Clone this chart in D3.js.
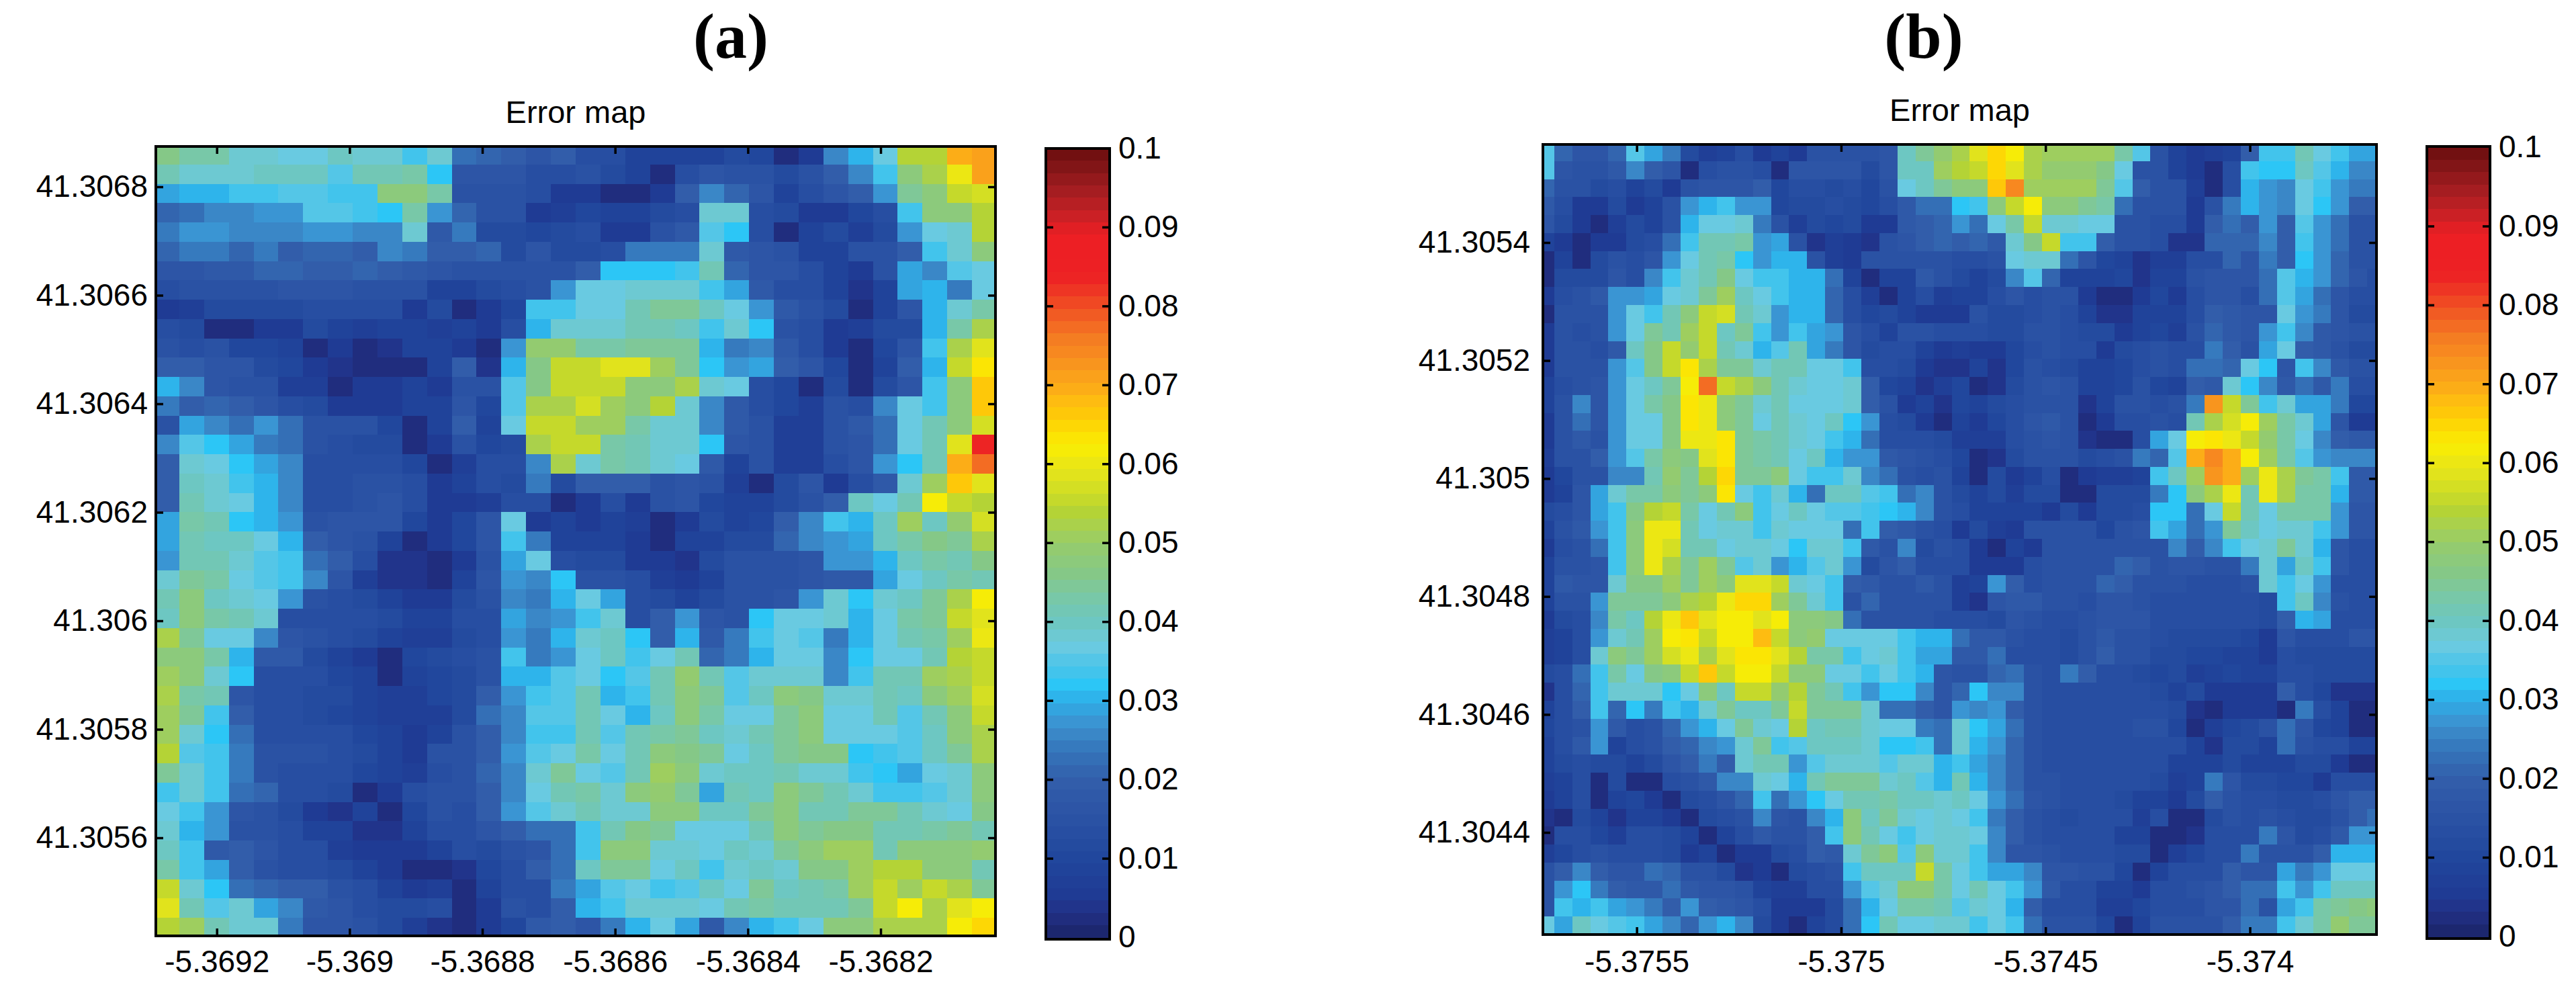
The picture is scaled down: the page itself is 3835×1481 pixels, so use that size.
<!DOCTYPE html>
<html>
<head>
<meta charset="utf-8">
<title>Error map</title>
<script src="https://cdn.jsdelivr.net/npm/d3@7"></script>
<style>
  html, body { margin: 0; padding: 0; background: #fff; }
  svg { display: block; }
  text { fill: #000; }
  .domain { display: none; }
  .tick line { stroke: #000; stroke-width: 3.5px; }
  .tick text { font-family: "Liberation Sans", Arial, sans-serif; font-size: 46px; fill: #000; }
</style>
</head>
<body>
<svg id="chart" width="3835" height="1481"></svg>
<script>
// error values are in thousandths, top row first
const errorA = [
[46,43,43,39,39,36,36,40,39,39,34,38,22,21,19,17,19,13,14,9,9,9,9,12,10,2,5,25,31,37,54,54,69,71],
[41,38,38,38,40,40,40,35,41,42,43,32,16,16,16,13,14,15,12,8,3,14,16,15,15,11,15,20,26,33,47,53,60,71],
[29,31,31,33,33,35,35,33,33,47,47,43,15,15,15,14,6,6,3,3,5,19,26,21,17,9,14,17,20,27,44,47,56,57],
[21,23,25,25,27,27,35,35,33,32,43,27,21,15,15,5,7,10,9,9,11,14,39,39,14,12,6,6,10,14,33,47,47,54],
[24,27,27,25,25,25,27,27,25,25,39,18,24,11,11,10,12,13,6,6,15,18,35,32,14,2,8,11,7,12,27,37,38,54],
[21,24,24,21,24,19,21,21,20,25,24,20,19,21,11,16,11,11,14,24,24,24,38,18,16,15,8,8,15,15,20,33,38,48],
[16,16,18,18,21,21,20,20,21,20,18,16,15,15,15,15,15,20,32,32,32,33,41,21,16,16,14,8,5,15,29,25,35,37],
[13,15,15,15,15,17,16,16,15,15,15,8,8,11,14,15,27,36,36,38,38,38,34,29,18,14,14,8,4,8,29,31,24,37],
[6,7,11,11,11,11,14,14,13,13,6,11,2,6,10,33,33,36,36,42,44,44,40,36,28,18,15,11,3,9,17,31,39,43],
[13,11,2,2,5,5,11,9,7,9,9,7,9,6,14,30,38,38,38,41,41,40,33,38,32,15,13,5,7,12,12,31,43,52],
[15,14,15,10,10,8,3,6,2,4,8,8,5,2,27,49,49,43,43,45,45,45,31,24,26,18,14,5,3,10,16,34,53,58],
[19,19,17,16,11,10,6,4,2,2,2,8,19,4,31,46,55,55,58,58,50,45,32,28,29,19,17,10,2,9,19,30,55,64],
[30,25,17,15,15,7,7,2,5,5,8,6,15,15,35,46,56,56,56,47,47,53,38,36,14,10,3,11,2,12,17,33,47,66],
[24,19,21,20,17,13,12,5,6,6,8,9,17,10,35,52,52,57,50,47,54,38,25,18,14,10,7,15,14,25,37,33,47,67],
[15,29,25,23,27,23,15,15,15,10,3,8,20,9,37,55,55,51,51,43,39,38,25,18,15,7,7,15,18,23,37,42,47,57],
[25,35,32,29,24,22,15,13,12,12,3,5,15,10,12,53,55,55,43,41,39,38,32,17,15,7,7,15,16,22,37,42,59,83],
[19,38,36,32,29,25,14,13,13,14,10,2,7,13,13,25,53,39,43,41,38,36,18,8,15,7,7,13,16,27,32,42,70,78],
[20,40,38,34,31,25,14,14,15,15,14,6,8,13,11,24,11,20,20,19,15,16,15,7,3,11,16,6,14,18,39,50,66,59],
[19,41,38,36,31,25,14,14,15,17,14,5,6,7,14,14,2,5,13,5,15,16,10,8,9,12,15,19,40,36,42,62,56,54],
[29,43,41,32,31,27,15,16,16,17,10,5,10,17,36,5,8,5,9,7,2,5,12,8,10,19,26,34,31,40,50,40,49,57],
[29,41,40,40,36,31,19,17,15,9,3,5,10,16,33,24,9,9,9,6,2,9,9,11,11,21,25,27,29,40,43,46,44,53],
[27,42,42,39,35,33,22,20,13,4,4,2,5,15,29,36,14,11,11,6,6,4,12,15,15,15,17,27,27,31,40,43,41,46],
[38,44,43,37,35,33,25,16,7,4,4,2,9,16,27,25,32,15,15,14,7,5,9,15,15,15,17,18,18,29,36,40,43,42],
[42,47,40,39,37,27,15,14,12,9,6,6,11,15,25,24,31,36,29,14,12,8,11,15,15,16,28,38,32,38,40,45,53,62],
[40,47,43,41,38,14,14,13,13,11,9,9,13,14,29,25,27,34,38,14,19,27,16,15,32,36,36,38,31,36,43,44,55,58],
[53,44,37,36,25,16,15,14,11,8,7,7,11,14,27,24,31,38,40,32,19,31,18,24,34,37,35,24,31,37,42,43,50,60],
[48,47,43,31,18,18,11,8,6,3,10,11,13,15,33,24,28,36,40,33,37,41,21,24,31,37,37,25,32,37,37,41,54,56],
[51,47,38,32,13,13,13,10,8,3,8,10,12,15,31,31,35,36,32,35,41,49,42,35,39,38,38,26,33,42,41,51,52,56],
[53,43,41,17,13,13,12,11,8,7,7,10,12,20,28,33,35,42,31,33,41,47,44,35,40,47,46,38,38,42,40,47,50,57],
[50,44,34,19,13,13,12,10,9,7,7,7,12,23,26,35,35,41,36,31,40,47,43,37,37,44,48,37,36,41,35,42,47,55],
[51,38,32,23,14,14,14,13,10,8,5,9,15,19,25,33,33,42,35,41,43,44,40,39,41,45,47,36,36,36,35,40,47,53],
[54,35,33,24,15,15,15,14,12,8,5,15,15,19,28,35,36,43,37,42,47,46,44,37,40,45,46,46,32,33,35,40,44,52],
[44,38,33,24,15,14,14,13,10,9,7,13,15,21,25,38,44,37,35,41,50,47,38,40,40,42,39,38,33,32,29,36,39,48],
[34,39,33,23,21,13,13,11,3,6,13,15,15,19,25,37,41,43,39,47,49,44,29,41,40,48,45,41,38,34,33,35,38,47],
[36,33,27,16,15,11,6,4,8,3,10,15,14,19,28,35,38,42,39,39,47,47,40,40,44,47,42,41,45,44,41,38,37,46],
[38,31,27,15,15,14,9,8,4,4,8,13,14,17,20,23,23,33,42,46,44,36,36,36,41,47,45,46,46,42,42,43,44,41],
[40,33,18,19,16,14,14,7,6,6,6,9,14,11,15,16,23,33,47,47,38,38,36,40,39,44,47,51,51,42,47,47,47,49],
[43,33,29,19,15,14,14,12,8,5,3,3,4,10,14,19,22,40,44,45,37,40,33,39,40,38,46,46,50,54,54,48,47,41],
[56,38,32,22,21,20,20,15,14,9,5,7,2,9,14,14,24,29,35,37,33,35,40,37,45,40,42,43,50,55,50,56,52,44],
[58,41,35,38,29,26,18,16,13,11,12,14,3,6,15,14,19,31,33,39,38,38,36,41,43,42,42,41,44,55,61,52,58,61],
[54,50,41,39,39,24,17,16,15,12,7,4,2,6,10,18,20,17,24,31,36,29,18,25,31,33,37,48,48,53,53,52,62,65]
];

const errorB = [
[35,21,17,16,21,35,29,24,12,7,8,13,6,9,5,15,15,15,15,16,40,45,49,53,58,65,61,53,51,51,51,51,43,35,15,9,5,7,9,19,33,33,42,37,34,29,29],
[35,16,15,15,18,26,20,16,2,14,15,15,13,3,16,16,16,16,12,17,40,40,50,54,55,65,59,52,49,49,49,46,37,15,15,9,6,3,14,34,32,32,40,35,31,25,25],
[21,15,15,11,14,9,11,5,15,17,17,17,20,10,14,14,12,14,10,15,37,40,44,47,48,66,75,51,50,50,50,45,35,20,15,15,7,2,14,31,28,26,36,33,27,24,24],
[18,13,6,5,11,5,8,15,27,31,33,27,27,10,11,11,13,11,10,13,18,23,23,32,33,47,56,62,48,47,44,43,22,15,15,15,5,15,24,31,28,26,37,32,27,19,19],
[16,11,6,3,7,11,8,15,31,36,36,38,24,15,7,11,10,11,5,5,18,20,21,27,23,36,43,55,39,39,37,36,15,15,14,14,5,20,22,20,28,20,35,28,22,15,15],
[9,6,3,5,6,12,14,22,33,41,41,43,27,29,15,4,7,5,4,15,16,19,21,20,21,18,38,46,56,34,34,20,15,15,14,4,4,21,21,21,25,19,33,28,22,15,15],
[3,9,2,12,15,14,16,28,36,41,43,32,28,31,31,15,7,5,15,15,15,15,15,14,13,15,36,38,38,23,17,10,8,4,7,7,13,14,21,17,24,20,32,27,21,15,15],
[2,11,12,12,17,14,25,33,38,42,46,36,33,33,31,31,22,8,3,9,8,18,15,12,9,12,26,35,21,9,9,9,10,4,9,9,15,17,16,17,22,35,30,27,21,17,13],
[6,14,15,18,27,27,29,36,39,45,50,40,37,33,31,31,21,14,7,2,8,13,7,9,8,13,16,14,15,15,5,2,2,5,10,6,14,17,17,14,22,35,29,22,17,14,14],
[2,15,15,15,27,36,33,41,48,55,57,41,39,28,31,31,21,14,10,11,9,5,5,6,15,11,11,14,15,14,9,4,4,8,9,8,14,19,18,16,16,36,27,24,16,12,12],
[5,15,14,15,27,37,44,42,50,55,40,44,33,27,33,29,27,16,13,9,15,15,14,14,13,11,11,15,15,14,11,11,6,9,10,7,15,21,18,17,28,34,25,18,17,15,15],
[5,15,15,14,18,40,46,55,49,55,42,38,31,35,41,29,24,17,11,14,13,9,5,7,5,5,10,14,15,14,13,6,11,14,15,13,14,24,20,15,29,37,20,18,15,11,11],
[5,15,15,15,28,35,46,55,63,53,45,44,39,42,41,37,36,33,14,14,11,6,4,4,9,4,10,15,14,12,8,8,10,14,15,13,22,23,21,37,32,17,33,25,18,15,15],
[8,14,15,17,27,36,40,45,62,78,56,52,48,42,38,37,37,38,19,10,8,4,7,10,2,4,11,15,17,15,9,8,10,15,10,9,20,18,38,32,26,18,22,18,24,14,14],
[8,15,25,17,27,37,43,46,63,60,48,44,39,41,37,37,36,38,19,15,6,8,4,10,9,11,14,15,15,15,4,9,15,15,14,15,24,72,55,45,33,38,29,29,24,10,10],
[5,15,23,16,27,37,37,46,63,60,48,44,37,41,38,36,40,32,27,14,11,6,3,9,5,10,14,16,18,15,3,5,14,14,15,14,42,53,57,62,50,43,38,29,17,6,6],
[6,15,18,15,27,37,37,46,60,60,64,44,43,41,38,37,33,31,22,14,14,13,11,7,7,7,14,15,16,15,4,2,2,14,29,36,62,63,60,55,49,43,36,26,20,18,18],
[7,15,15,20,27,35,43,48,46,59,64,44,43,41,37,40,31,27,27,18,17,15,13,10,3,4,11,15,15,15,11,13,15,24,21,35,70,74,70,61,50,43,35,27,25,25,25],
[6,10,15,15,26,26,42,49,44,54,65,44,44,47,37,33,33,38,25,23,15,14,15,8,2,11,6,8,13,3,5,7,7,8,33,40,50,72,70,50,60,53,44,43,33,18,18],
[5,9,16,29,38,43,43,48,44,47,64,36,34,38,31,23,40,40,35,33,23,25,15,12,9,11,7,11,11,2,2,11,12,12,24,32,48,52,60,42,60,53,43,43,31,18,18],
[11,14,16,29,33,46,54,56,43,37,42,47,33,37,40,36,35,35,33,32,31,25,15,13,9,9,9,8,6,11,6,11,12,14,32,32,22,37,55,42,36,43,43,43,28,17,17],
[8,15,18,28,33,47,60,60,41,36,39,39,33,38,36,36,37,23,33,19,18,15,14,6,11,7,5,15,15,15,15,10,15,16,33,29,23,28,45,40,37,39,39,33,27,16,16],
[6,14,15,22,33,48,60,57,41,41,37,38,38,37,32,38,38,34,18,15,25,12,15,14,5,2,9,5,15,15,15,15,15,15,15,25,20,25,33,37,39,44,38,31,17,14,14],
[9,15,15,17,33,48,60,52,44,51,44,35,38,27,31,35,38,28,12,17,19,14,14,14,5,5,5,13,15,15,15,15,21,19,15,17,17,15,15,24,38,29,40,33,17,14,14],
[9,18,16,17,38,46,46,50,44,51,47,58,58,56,38,36,33,20,18,15,15,18,15,7,8,27,19,14,15,15,15,21,19,15,15,15,14,14,14,15,38,33,36,28,14,14,14],
[8,15,15,28,44,44,44,47,52,54,60,65,65,51,44,38,33,15,21,15,15,15,15,7,4,16,18,18,15,15,13,17,17,15,14,14,14,14,14,14,12,33,40,25,15,14,14],
[5,12,14,25,43,40,54,60,66,58,62,62,58,62,47,47,46,22,15,15,15,15,14,14,14,11,17,15,14,14,15,16,16,16,14,14,14,14,14,14,12,19,31,29,14,14,14],
[7,9,14,27,38,41,50,62,64,55,62,62,68,55,48,49,36,36,36,36,33,31,31,22,18,18,15,13,13,12,15,18,15,15,13,12,12,12,12,10,5,17,13,13,13,16,16],
[7,9,14,38,47,44,50,57,60,52,58,64,64,58,54,43,43,33,36,38,34,29,29,18,18,23,14,14,13,12,15,19,15,15,12,11,10,10,8,8,5,13,12,12,11,11,11],
[12,14,23,33,43,36,46,47,55,66,55,62,62,55,48,48,36,36,33,36,33,31,16,15,15,21,22,15,13,24,20,14,13,11,10,12,7,8,10,8,8,14,13,11,12,11,11],
[4,14,21,33,38,38,39,32,36,47,40,55,56,49,54,45,41,33,28,32,32,25,17,21,32,25,25,15,14,13,14,14,13,13,11,9,11,6,6,6,5,19,13,10,4,4,4],
[8,14,20,33,21,32,24,33,30,38,45,40,40,45,55,44,44,44,38,22,22,20,17,28,26,28,20,15,14,14,13,13,13,14,14,11,4,2,5,5,5,3,24,14,8,3,3],
[10,14,15,28,18,14,15,21,28,30,36,44,38,37,54,40,42,42,38,36,36,24,23,38,32,29,22,15,14,14,13,14,13,15,15,10,2,7,10,12,15,23,17,10,8,2,2],
[8,13,18,27,8,14,15,20,21,25,28,38,44,34,35,40,40,40,38,32,32,34,22,38,31,28,21,15,14,13,13,13,13,13,13,13,8,4,11,11,9,23,15,14,14,9,9],
[9,12,14,12,11,8,11,16,20,24,19,38,41,41,27,35,38,38,38,35,38,39,30,34,29,25,21,15,14,14,13,13,14,14,13,8,8,8,12,9,9,8,11,12,6,3,3],
[7,9,13,2,12,3,3,14,15,18,25,26,38,36,31,42,44,44,44,38,40,35,31,42,31,26,21,15,15,13,14,13,13,13,11,7,8,24,17,11,11,10,10,6,14,13,13],
[5,9,13,2,9,10,6,3,11,14,17,21,34,23,27,32,37,41,42,43,40,40,38,40,36,28,22,16,15,13,13,14,12,9,8,6,12,20,15,14,13,12,12,13,17,20,20],
[4,3,11,9,4,9,8,6,3,12,13,15,25,17,15,25,30,47,40,44,38,37,38,36,33,24,20,15,14,11,13,13,13,7,13,3,3,11,15,14,15,14,12,12,15,19,23],
[3,14,13,10,7,13,14,12,9,3,8,14,18,15,15,20,33,47,42,37,34,36,38,38,36,25,20,15,14,13,13,13,9,8,3,2,4,13,14,14,24,16,12,14,18,27,28],
[7,10,14,15,14,14,14,11,5,8,3,6,6,11,14,20,18,38,45,48,35,47,38,38,33,25,17,16,15,14,14,14,11,12,3,7,10,14,14,24,15,15,15,19,31,31,31],
[15,20,25,20,16,16,23,21,15,15,12,4,6,3,12,13,15,33,40,40,40,55,43,36,33,29,29,25,17,16,15,15,10,3,8,14,14,14,19,17,17,29,24,27,36,36,36],
[15,28,32,24,19,18,18,23,18,17,16,15,8,7,7,13,14,28,35,38,47,47,43,37,42,36,33,27,18,14,13,8,8,5,14,14,15,16,19,23,23,33,28,33,40,40,40],
[15,33,31,33,29,27,24,20,27,20,18,17,13,6,5,6,12,23,31,36,43,43,42,35,38,36,31,20,14,13,13,7,7,10,13,13,14,16,16,23,15,29,33,43,44,46,47],
[37,29,40,36,35,33,29,25,21,28,31,25,11,6,2,9,11,23,32,41,36,37,38,38,33,36,33,23,15,15,15,10,3,9,15,15,15,15,20,24,24,33,38,43,49,44,44]
];

const lonTicksA = [-5.3692, -5.369, -5.3688, -5.3686, -5.3684, -5.3682];
const latTicksA = [41.3068, 41.3066, 41.3064, 41.3062, 41.306, 41.3058, 41.3056];
const lonTicksB = [-5.3755, -5.375, -5.3745, -5.374];
const latTicksB = [41.3054, 41.3052, 41.305, 41.3048, 41.3046, 41.3044];
const colorbarTicks = [0, 0.01, 0.02, 0.03, 0.04, 0.05, 0.06, 0.07, 0.08, 0.09, 0.1];

// the jet map as it came out of print, sampled off the colorbar
const rampValues = [0, .003, .005, .01, .015, .02, .023, .025, .027, .029, .031, .032, .034, .036, .037, .04, .043, .046, .05,
    .052, .054, .056, .058, .06, .062, .064, .066, .068, .07, .072, .074, .076, .078, .08, .082, .084, .089, .092, .095, .098, .1];
const rampColors = ['#1a2468', '#222f84', '#1f3a93', '#21479d', '#2a52a4', '#335eab', '#3471b7', '#3880c2', '#3c92d0', '#33a5e0',
    '#2cbaef', '#2cc6f6', '#48c4ea', '#5dc8e5', '#6dcbdf', '#6dc7c0', '#78c8a8', '#85c888', '#97cc6a',
    '#a8d04f', '#b5d335', '#cbdb28', '#dde21f', '#ebe614', '#f8ed05', '#fde004', '#fecb07', '#febc11', '#fba919', '#f99a1d',
    '#f78a20', '#f47b22', '#f26523', '#f04e23', '#ee3524', '#ed2024', '#ed1f24', '#c22025', '#a01c20', '#7e1416', '#6b0e0e'];
const colorLevels = 64;

const ramp = d3.scaleLinear().domain(rampValues).range(rampColors);
const bandColors = d3.range(colorLevels).map(i => ramp((i + 0.5) / colorLevels * 0.1));
const colorScale = d3.scaleQuantize().domain([0, 0.1]).range(bandColors);

class ErrorMap {
    constructor(_config, _data) {
        this.config = _config;
        this.data = _data;
        this.initVis();
    }

    initVis() {
        let vis = this;
        const c = vis.config;

        vis.svg = d3.select(c.parentElement);
        vis.chart = vis.svg.append('g');

        vis.xScale = d3.scaleLinear().domain(c.lonDomain).range([c.left, c.right]);
        vis.yScale = d3.scaleLinear().domain(c.latDomain).range([c.top, c.bottom]);

        // cells are not the same size as the axes box, the outer ones get cut by the frame
        vis.colScale = d3.scaleLinear().domain([0, vis.data[0].length]).range(c.cellX);
        vis.rowScale = d3.scaleLinear().domain([0, vis.data.length]).range(c.cellY);

        vis.svg.append('clipPath').attr('id', c.id + '-clip')
            .append('rect')
            .attr('x', c.left).attr('y', c.top)
            .attr('width', c.right - c.left).attr('height', c.bottom - c.top);

        vis.renderCells();
        vis.renderAxes();
        vis.renderTitles();
        vis.renderColorbar();
    }

    renderCells() {
        let vis = this;
        const cells = vis.data.flatMap((row, r) => row.map((v, col) => ({row: r, col: col, value: v / 1000})));

        vis.chart.append('g')
            .attr('clip-path', `url(#${vis.config.id}-clip)`)
            .attr('shape-rendering', 'crispEdges')
            .selectAll('rect')
            .data(cells)
            .join('rect')
                .attr('x', d => vis.colScale(d.col))
                .attr('y', d => vis.rowScale(d.row))
                .attr('width', d => vis.colScale(d.col + 1) - vis.colScale(d.col) + 0.5)
                .attr('height', d => vis.rowScale(d.row + 1) - vis.rowScale(d.row) + 0.5)
                .style('fill', d => colorScale(d.value));
    }

    renderAxes() {
        let vis = this;
        const c = vis.config;
        const label = d => String(d);

        // matlab box: ticks point inwards on all four sides, labels only bottom and left
        vis.chart.append('g')
            .attr('transform', `translate(0, ${c.bottom})`)
            .call(d3.axisBottom(vis.xScale).tickValues(c.lonTicks).tickSize(-11).tickPadding(c.xLabelPad).tickFormat(label));
        vis.chart.append('g')
            .attr('transform', `translate(0, ${c.top})`)
            .call(d3.axisTop(vis.xScale).tickValues(c.lonTicks).tickSize(-11).tickFormat(''));
        vis.chart.append('g')
            .attr('transform', `translate(${c.left}, 0)`)
            .call(d3.axisLeft(vis.yScale).tickValues(c.latTicks).tickSize(-11).tickPadding(c.yLabelPad).tickFormat(label));
        vis.chart.append('g')
            .attr('transform', `translate(${c.right}, 0)`)
            .call(d3.axisRight(vis.yScale).tickValues(c.latTicks).tickSize(-11).tickFormat(''));

        vis.chart.append('rect')
            .attr('x', c.left).attr('y', c.top)
            .attr('width', c.right - c.left).attr('height', c.bottom - c.top)
            .attr('fill', 'none').attr('stroke', '#000').attr('stroke-width', 4);
    }

    renderTitles() {
        let vis = this;
        const c = vis.config;

        vis.chart.append('text')
            .attr('x', (c.left + c.right) / 2).attr('y', c.titleY)
            .attr('text-anchor', 'middle')
            .style('font-family', '"Liberation Sans", Arial, sans-serif')
            .style('font-size', '47px')
            .text('Error map');

        vis.chart.append('text')
            .attr('x', c.panelX).attr('y', 86)
            .attr('text-anchor', 'middle')
            .style('font-family', '"Liberation Serif", "Times New Roman", serif')
            .style('font-weight', 'bold')
            .style('font-size', '96px')
            .text(c.panelLabel);
    }

    renderColorbar() {
        let vis = this;
        const b = vis.config.bar;

        const barScale = d3.scaleLinear().domain([0, 0.1]).range([b.zeroY, b.topY]);
        const g = vis.chart.append('g');

        // lowest band runs on under the frame
        g.append('rect')
            .attr('x', b.left).attr('y', b.zeroY - 10)
            .attr('width', b.right - b.left).attr('height', b.frameBottom - b.zeroY + 10)
            .style('fill', bandColors[0]);

        g.append('g')
            .attr('shape-rendering', 'crispEdges')
            .selectAll('rect')
            .data(bandColors)
            .join('rect')
                .attr('x', b.left)
                .attr('width', b.right - b.left)
                .attr('y', (d, i) => barScale((i + 1) / colorLevels * 0.1))
                .attr('height', (d, i) => barScale(i / colorLevels * 0.1) - barScale((i + 1) / colorLevels * 0.1) + 0.5)
                .style('fill', d => d);

        const rightAxis = g.append('g')
            .attr('transform', `translate(${b.right}, 0)`)
            .call(d3.axisRight(barScale).tickValues(colorbarTicks).tickSize(-11).tickPadding(13).tickFormat(d => String(d)));
        const leftAxis = g.append('g')
            .attr('transform', `translate(${b.left}, 0)`)
            .call(d3.axisLeft(barScale).tickValues(colorbarTicks).tickSize(-11).tickFormat(''));

        // no tick marks at the two ends, only the labels
        [rightAxis, leftAxis].forEach(axis => {
            axis.selectAll('.tick').filter(d => d === 0 || d === 0.1).select('line').remove();
        });

        g.append('rect')
            .attr('x', b.left).attr('y', b.frameTop)
            .attr('width', b.right - b.left).attr('height', b.frameBottom - b.frameTop)
            .attr('fill', 'none').attr('stroke', '#000').attr('stroke-width', 4);
    }
}

new ErrorMap({
    parentElement: '#chart', id: 'a', panelLabel: '(a)', panelX: 1088, titleY: 183,
    left: 232, right: 1482, top: 218, bottom: 1393,
    lonDomain: [-5.3692918, -5.368027], latDomain: [41.3068743, 41.3054192],
    cellX: [230, 1484], cellY: [216, 1395],
    lonTicks: lonTicksA, latTicks: latTicksA, xLabelPad: 21, yLabelPad: 12,
    bar: {left: 1557, right: 1652, zeroY: 1395, topY: 220.5, frameTop: 221, frameBottom: 1398}
}, errorA);

new ErrorMap({
    parentElement: '#chart', id: 'b', panelLabel: '(b)', panelX: 2864, titleY: 180,
    left: 2297, right: 3538, top: 215, bottom: 1391,
    lonDomain: [-5.3757294, -5.3736903], latDomain: [41.3055663, 41.3042269],
    cellX: [2286.8, 3551.1], cellY: [213, 1391],
    lonTicks: lonTicksB, latTicks: latTicksB, xLabelPad: 23, yLabelPad: 19,
    bar: {left: 3613, right: 3707, zeroY: 1393.5, topY: 219, frameTop: 218, frameBottom: 1397}
}, errorB);
</script>
</body>
</html>
